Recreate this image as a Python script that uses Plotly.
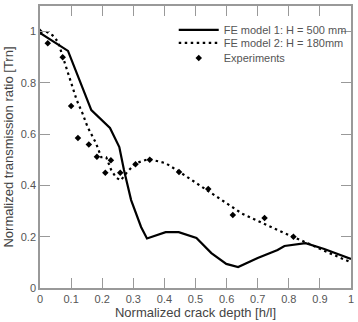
import plotly.graph_objects as go

# FE model 1: H = 500 mm (solid)
fe1_x = [0.0, 0.09, 0.165, 0.225, 0.255, 0.27, 0.293, 0.325, 0.344, 0.404, 0.446,
         0.503, 0.551, 0.599, 0.637, 0.70, 0.764, 0.786, 0.854, 0.914, 1.0]
fe1_y = [0.995, 0.925, 0.694, 0.624, 0.55, 0.46, 0.343, 0.238, 0.193, 0.218, 0.218,
         0.195, 0.136, 0.094, 0.082, 0.117, 0.148, 0.164, 0.175, 0.152, 0.113]

# FE model 2: H = 180mm (dotted)
fe2_x = [0.02, 0.04, 0.058, 0.07, 0.085, 0.10, 0.118, 0.137, 0.153, 0.18, 0.197,
         0.213, 0.229, 0.245, 0.26, 0.28, 0.308, 0.35, 0.404, 0.446, 0.55, 0.65,
         0.764, 0.818, 0.86, 0.924, 1.0]
fe2_y = [1.0, 0.986, 0.96, 0.916, 0.86, 0.80, 0.733, 0.68, 0.628, 0.565, 0.51,
         0.51, 0.46, 0.43, 0.42, 0.452, 0.487, 0.503, 0.487, 0.455, 0.37, 0.29,
         0.226, 0.199, 0.175, 0.14, 0.10]

# Experiments (markers)
exp_x = [0.0, 0.025, 0.073, 0.10, 0.122, 0.157, 0.183, 0.21, 0.228, 0.258, 0.307,
         0.353, 0.447, 0.541, 0.62, 0.722, 0.815]
exp_y = [1.0, 0.955, 0.90, 0.71, 0.585, 0.56, 0.512, 0.45, 0.498, 0.45, 0.483,
         0.50, 0.452, 0.386, 0.285, 0.273, 0.20]

x_ticks = [0, 0.1, 0.2, 0.3, 0.4, 0.5, 0.6, 0.7, 0.8, 0.9, 1]
y_ticks = [0, 0.2, 0.4, 0.6, 0.8, 1]

FONT = "Liberation Sans, Arial, sans-serif"
AX = "#999999"
TXT = "#555555"

fig = go.Figure()
fig.add_trace(go.Scatter(x=fe1_x, y=fe1_y, mode="lines", name="FE model 1: H = 500 mm",
                         line=dict(color="black", width=2.2), legend="legend",
                         showlegend=True))
fig.add_trace(go.Scatter(x=fe2_x, y=fe2_y, mode="lines", name="FE model 2: H = 180mm",
                         line=dict(color="black", width=2.2, dash="2.5px,3.5px"), legend="legend2",
                         showlegend=True))
fig.add_trace(go.Scatter(x=exp_x, y=exp_y, mode="markers", name="Experiments",
                         marker=dict(color="black", symbol="diamond", size=5), legend="legend3",
                         showlegend=True))

leg_common = dict(x=0.43, xanchor="left", yanchor="middle", bgcolor="rgba(0,0,0,0)",
                  font=dict(family=FONT, size=11, color=TXT), itemwidth=40)
fig.update_layout(
    width=358, height=322,
    showlegend=True,
    margin=dict(l=40, r=4, t=5, b=34),
    paper_bgcolor="white", plot_bgcolor="white",
    font=dict(family=FONT, size=11, color=TXT),
    legend=dict(y=0.915, **leg_common),
    legend2=dict(y=0.869, **leg_common),
    legend3=dict(y=0.816, **leg_common),
    xaxis=dict(range=[0, 1], tickvals=x_ticks, ticktext=[str(v) for v in x_ticks],
               ticks="inside", ticklen=10, tickwidth=1.3, tickcolor=AX,
               showline=True, linecolor=AX, linewidth=1.5, mirror="ticks",
               showgrid=False, zeroline=False,
               tickfont=dict(family=FONT, size=11, color=TXT),
               title=dict(text="Normalized crack depth [h/l]", standoff=4,
                          font=dict(family=FONT, size=13, color="#444444"))),
    yaxis=dict(range=[0, 1.1], tickvals=y_ticks, ticktext=[str(v) for v in y_ticks],
               ticks="inside", ticklen=10, tickwidth=1.3, tickcolor=AX,
               showline=True, linecolor=AX, linewidth=1.5, mirror="ticks",
               showgrid=False, zeroline=False,
               tickfont=dict(family=FONT, size=11, color=TXT),
               title=dict(text="Normalized transmission ratio [Trn]", standoff=4,
                          font=dict(family=FONT, size=13, color="#444444"))),
)
fig.write_html("out.html")
